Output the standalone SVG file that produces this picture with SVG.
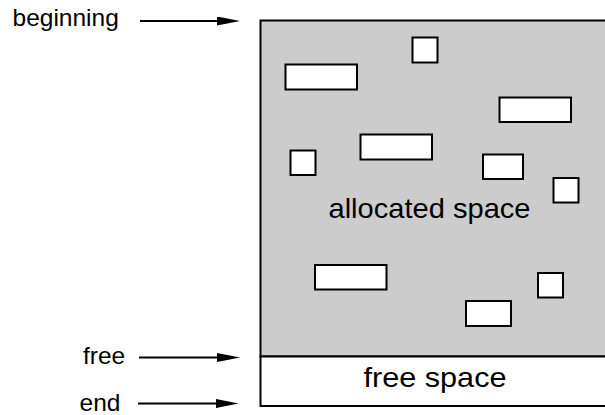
<svg xmlns="http://www.w3.org/2000/svg" width="605" height="415" viewBox="0 0 605 415">
<style>
  .lbl { font-family: "Liberation Sans", Arial, sans-serif; font-size: 24.5px; fill: #000; }
  .inner { font-family: "Liberation Sans", Arial, sans-serif; font-size: 28px; fill: #000; }
  .blk { fill: #fff; stroke: #000; stroke-width: 2; }
  .conn { stroke: #000; stroke-width: 2; fill: none; }
</style>
<defs>
  <marker id="arr" markerUnits="userSpaceOnUse" markerWidth="24" markerHeight="10" refX="8" refY="4.5" orient="auto">
    <path d="M0,0 L23,4.5 L0,9 z" fill="#000"/>
  </marker>
</defs>
<rect width="605" height="415" fill="#fff"/>
<g id="memory">
  <rect x="260.5" y="20.5" width="360" height="336" fill="#cccccc" stroke="#000" stroke-width="2"/>
  <rect x="260.5" y="356.5" width="360" height="49.5" fill="#fff" stroke="#000" stroke-width="2"/>
  <text class="inner" x="328.5" y="217.5" textLength="202" lengthAdjust="spacingAndGlyphs">allocated space</text>
  <text class="inner" x="363.5" y="386.7" textLength="143" lengthAdjust="spacingAndGlyphs">free space</text>
</g>
<g id="blocks">
  <rect class="blk" x="412.5" y="37.5" width="25" height="25"/>
  <rect class="blk" x="285.5" y="64.5" width="71.5" height="25"/>
  <rect class="blk" x="499.5" y="97.5" width="71.5" height="24.5"/>
  <rect class="blk" x="290.5" y="150.5" width="25" height="24.5"/>
  <rect class="blk" x="360.5" y="134.5" width="71.5" height="25"/>
  <rect class="blk" x="483" y="154.5" width="40" height="24.5"/>
  <rect class="blk" x="553.5" y="178" width="25" height="24.5"/>
  <rect class="blk" x="315" y="265" width="71.5" height="24.5"/>
  <rect class="blk" x="538" y="273" width="25" height="24.5"/>
  <rect class="blk" x="466" y="301" width="45" height="25"/>
</g>
<g id="label-beginning"><text class="lbl" x="12.5" y="26">beginning</text></g>
<g id="label-free"><text class="lbl" x="83" y="363.5">free</text></g>
<g id="label-end"><text class="lbl" x="79.5" y="410.5">end</text></g>
<g id="connectors">
  <line class="conn" x1="140" y1="21" x2="225" y2="21" marker-end="url(#arr)"/>
  <line class="conn" x1="139" y1="357.5" x2="225" y2="357.5" marker-end="url(#arr)"/>
  <line class="conn" x1="138" y1="403.5" x2="223.5" y2="403.5" marker-end="url(#arr)"/>
</g>
</svg>
